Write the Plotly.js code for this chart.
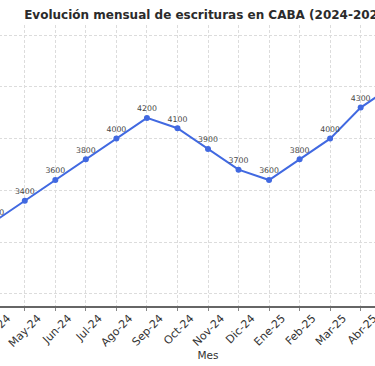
<!DOCTYPE html>
<html>
<head>
<meta charset="utf-8">
<script src="https://cdn.plot.ly/plotly-3.0.1.min.js"></script>
<style>
html,body{margin:0;padding:0;overflow:hidden;width:375px;height:366px;background:#fff;}
#chart{position:absolute;left:-90.75px;top:0;width:557.5px;height:366px;}
</style>
</head>
<body>
<div id="chart"></div>
<script>
const meses = ["Abr-24","May-24","Jun-24","Jul-24","Ago-24","Sep-24","Oct-24","Nov-24","Dic-24","Ene-25","Feb-25","Mar-25","Abr-25","May-25"];
const escrituras = [3200,3400,3600,3800,4000,4200,4100,3900,3700,3600,3800,4000,4300,4500];
const etiquetas = escrituras.map(v => String(v));
const mesesConEtiqueta = meses.slice(0, 13);

const trace = {
  x: meses,
  y: escrituras,
  type: 'scatter',
  mode: 'lines+markers+text',
  text: etiquetas,
  textposition: 'top center',
  textfont: {family: 'DejaVu Sans', size: 7.8, color: '#444'},
  line: {color: '#4169E1', width: 2},
  marker: {color: '#4169E1', size: 6},
  hoverinfo: 'x+y'
};

const layout = {
  width: 557.5,
  height: 366,
  margin: {l: 70, r: 30, t: 25, b: 60},
  paper_bgcolor: '#fff',
  plot_bgcolor: '#fff',
  showlegend: false,
  font: {family: 'DejaVu Sans', color: '#333'},
  title: {
    text: 'Evolución mensual de escrituras en CABA (2024-2025)',
    font: {family: 'DejaVu Sans', size: 12, color: '#2b2b2b', weight: 'bold'},
    x: 0.5, xref: 'paper', xanchor: 'center',
    y: 1 - 15/366, yref: 'container', yanchor: 'middle'
  },
  xaxis: {
    type: 'category',
    range: [-0.5, 14.5],
    tickmode: 'array',
    tickvals: mesesConEtiqueta,
    ticktext: mesesConEtiqueta,
    tickangle: -45,
    ticklabelshift: 13,
    ticklabelstandoff: -3,
    tickfont: {family: 'DejaVu Sans', size: 11, color: '#333'},
    showline: true, linecolor: '#666', linewidth: 1.5,
    ticks: 'outside', ticklen: 3, tickcolor: '#888', tickwidth: 1,
    showgrid: true, gridcolor: '#dcdcdc', griddash: '3px,2px', gridwidth: 1,
    zeroline: false,
    title: {text: 'Mes', font: {family: 'DejaVu Sans', size: 10.5, color: '#333'}, standoff: 0}
  },
  yaxis: {
    range: [2384, 5097],
    dtick: 500,
    tick0: 0,
    showline: false,
    showgrid: true, gridcolor: '#dcdcdc', griddash: '3px,2px', gridwidth: 1,
    zeroline: false,
    tickfont: {family: 'DejaVu Sans', size: 10, color: '#333'},
    title: {text: 'Cantidad de escrituras', font: {family: 'DejaVu Sans', size: 10.5, color: '#333'}}
  }
};

Plotly.newPlot('chart', [trace], layout, {displayModeBar: false, staticPlot: true});
</script>
</body>
</html>
